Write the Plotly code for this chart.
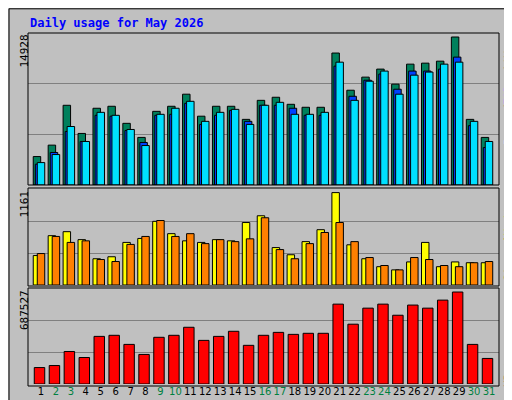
import plotly.graph_objects as go

days = list(range(1, 32))
weekend = [2, 3, 9, 10, 16, 17, 23, 24, 30, 31]
hits = [2870, 4020, 8040, 5200, 7740, 7940, 6220, 4800, 7430, 7940, 9160, 6940, 7940, 7940, 6620, 8540, 8850, 8140, 7840, 7840, 13310, 9560, 10880, 11690, 10170, 12190, 12290, 12490, 14928, 6620, 4800]
files = [2100, 3280, 5400, 4390, 7030, 6940, 5500, 4290, 7030, 7130, 8240, 6110, 7030, 7530, 6420, 8040, 8040, 7740, 7030, 7030, 11990, 8950, 10570, 11190, 9660, 11490, 11490, 11690, 12900, 5990, 3780]
pages = [2260, 3070, 5900, 4390, 7330, 7030, 5600, 3980, 7130, 7740, 8440, 6420, 7330, 7630, 6110, 8040, 8340, 7130, 7130, 7330, 12390, 8540, 10470, 11490, 9160, 11080, 11390, 12190, 12390, 6420, 4390]
sites = [370, 620, 670, 570, 330, 355, 535, 585, 800, 645, 555, 535, 570, 555, 785, 870, 470, 380, 545, 695, 1161, 505, 330, 230, 190, 290, 535, 230, 290, 280, 280]
visits = [395, 610, 535, 555, 320, 295, 510, 610, 810, 610, 645, 520, 570, 545, 580, 845, 445, 330, 520, 660, 785, 545, 345, 245, 190, 345, 320, 245, 230, 280, 295]
kbytes = [123000, 138000, 243000, 198000, 356000, 364000, 296000, 221000, 349000, 364000, 424000, 326000, 356000, 394000, 289000, 364000, 386000, 371000, 379000, 379000, 597000, 447000, 567000, 597000, 514000, 590000, 567000, 627000, 687527, 296000, 191000]

BG = "#C0C0C0"
line = dict(color="black", width=1)
fig = go.Figure()
def bar(y, color, off, w, ya):
    fig.add_trace(go.Bar(x=days, y=y, marker=dict(color=color, line=line), offset=off, width=w,
                         xaxis="x", yaxis=ya, hoverinfo="skip"))
bar(hits, "#00805C", -0.52, 0.5, "y")
bar(files, "#0040FF", -0.38, 0.5, "y")
bar(pages, "#00E0FF", -0.25, 0.5, "y")
bar(sites, "#FFFF00", -0.52, 0.5, "y2")
bar(visits, "#FF8000", -0.25, 0.5, "y2")
bar(kbytes, "#FF0000", -0.45, 0.7, "y3")

def yax(dom, top):
    r = top
    return dict(domain=dom, range=[0, r], tickvals=[r/3, 2*r/3], showticklabels=False,
                gridcolor="#808080", gridwidth=1, zeroline=False, showline=False, fixedrange=True)
r1 = 14928*152/148
r2 = 1161*96/92.4
r3 = 687527*95.4/91.4
ticktext = [f'<span style="color:#008040">{d}</span>' if d in weekend else str(d) for d in days]
fig.update_layout(
    width=512, height=400, margin=dict(l=0, r=0, t=0, b=0),
    paper_bgcolor=BG, plot_bgcolor=BG, showlegend=False, barmode="overlay",
    font=dict(family="DejaVu Sans Mono", size=11, color="black"),
    xaxis=dict(domain=[20/512, 491/512], range=[1-13/14.93, 31+10/14.93], tickvals=days, ticktext=ticktext,
               showgrid=False, zeroline=False, anchor="y3", ticks="", tickangle=0, automargin=False,
               tickfont=dict(size=10, family="DejaVu Sans")),
    yaxis=yax([1-177/400, 1-25/400], r1),
    yaxis2=yax([1-277/400, 1-181/400], r2),
    yaxis3=yax([1-376/400, 1-280/400], r3),
)
shapes = []
for (y0, y1) in [(25, 177), (180, 278), (280, 378)]:
    shapes.append(dict(type="rect", xref="paper", yref="paper", x0=20/512, x1=491/512,
                       y0=1-y1/400, y1=1-y0/400, line=dict(color="black", width=1)))
shapes.append(dict(type="rect", xref="paper", yref="paper", x0=0.002, x1=0.998, y0=0.002, y1=0.998,
                   line=dict(color="black", width=1)))
shapes.append(dict(type="rect", xref="paper", yref="paper", x0=506/512, x1=510/512, y0=0.005, y1=0.99,
                   fillcolor="#808080", line=dict(width=0)))
shapes.append(dict(type="rect", xref="paper", yref="paper", x0=0.01, x1=0.995, y0=0.005, y1=0.015,
                   fillcolor="#808080", line=dict(width=0)))
fig.update_layout(shapes=shapes)
ann = [
    dict(text="<b>Daily usage for May 2026</b>", x=20/512, y=1-15/400, xanchor="left", yanchor="middle",
         font=dict(color="#0000FF", size=12)),
    dict(text="14928", x=16/512, y=1-25/400, xanchor="center", yanchor="top", textangle=-90),
    dict(text="1161", x=16/512, y=1-181/400, xanchor="center", yanchor="top", textangle=-90),
    dict(text="687527", x=16/512, y=1-280/400, xanchor="center", yanchor="top", textangle=-90),
]
right = [("Hits", "#00805C", 41), ("/", "black", 62), ("Files", "#0040FF", 81), ("/", "black", 100),
         ("Pages", "#00E0FF", 121), ("Visits", "#FFFF00", 212), ("/", "black", 233), ("Sites", "#FF8000", 257),
         ("KBytes", "#FF0000", 359)]
for t, c, yc in right:
    ann.append(dict(text=t, x=500/512, y=1-yc/400, xanchor="center", yanchor="middle", textangle=-90,
                    font=dict(size=11, color=c)))
for a in ann:
    a.update(xref="paper", yref="paper", showarrow=False)
    a.setdefault("font", dict(size=11, color="black"))
fig.update_layout(annotations=ann)
fig.write_html("out.html")
